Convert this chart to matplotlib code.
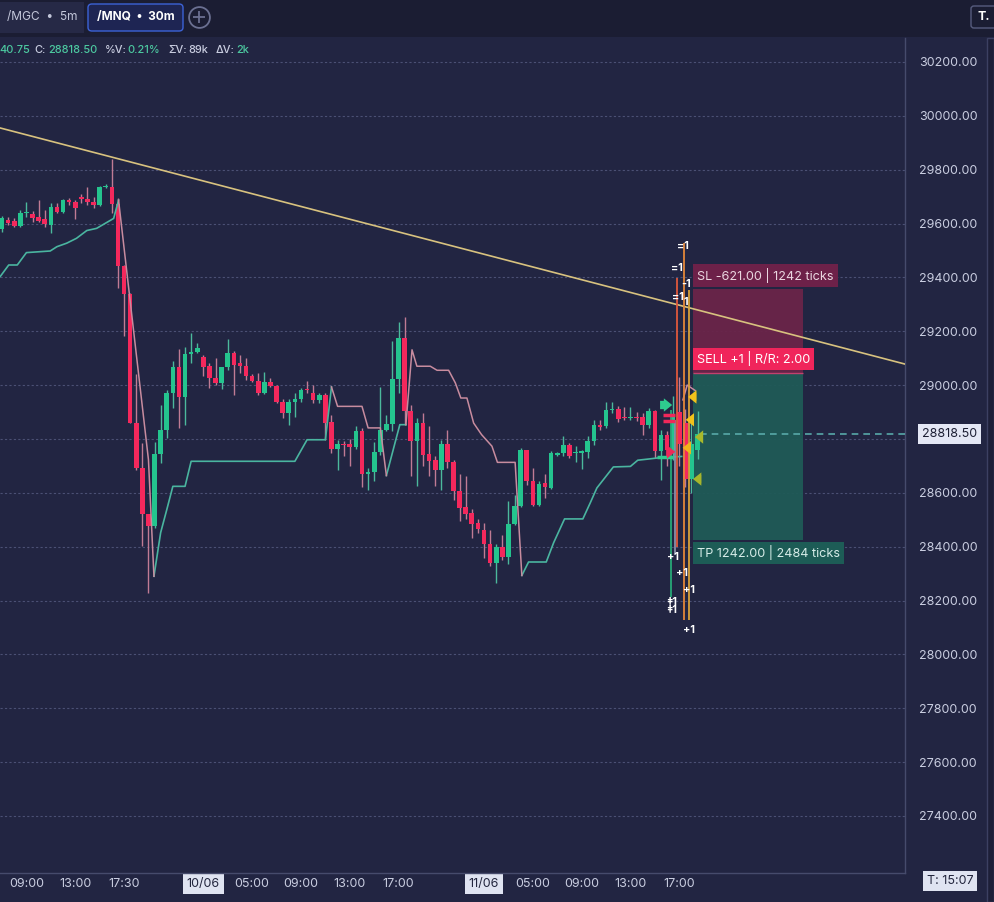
import matplotlib
matplotlib.use("Agg")
import matplotlib.pyplot as plt
from matplotlib.patches import Rectangle, FancyBboxPatch
from matplotlib.lines import Line2D
from matplotlib.transforms import blended_transform_factory
import numpy as np

plt.rcParams['font.family'] = ['Inter', 'DejaVu Sans']

BG = '#222542'
HEAD = '#1b1d33'
GRID = '#4b5074'
TXT = '#c9cde0'
GREEN = '#24c48e'
RED = '#f4285c'
GREEN_WICK = '#4bb99c'
RED_WICK = '#c07b94'
TEAL_LINE = '#4ab5a0'
PINK_LINE = '#c88c9f'
INFO_GREEN = '#4cc9a0'

# /MNQ 30m candles (index 0 = first visible bar)
opens = [29579, 29613, 29610, 29591, 29638, 29636, 29623, 29616, 29595, 29660,
         29644, 29687, 29681, 29700, 29691, 29681, 29669, 29734, 29737, 29673,
         29443, 29340, 28861, 28692, 28522, 28478, 28745, 28834, 28972, 29067,
         28955, 29116, 29122, 29104, 29071, 29026, 29007, 29067, 29119, 29081,
         29071, 29034, 29017, 28970, 29013, 28997, 28939, 28898, 28939, 28948,
         28985, 28970, 28943, 28964, 28862, 28764, 28783, 28783, 28769, 28831,
         28670, 28676, 28752, 28835, 28856, 29024, 29175, 28903, 28791, 28859,
         28744, 28720, 28686, 28783, 28715, 28606, 28546, 28525, 28486, 28463,
         28410, 28340, 28399, 28362, 28484, 28550, 28758, 28643, 28556, 28637,
         28618, 28742, 28746, 28779, 28746, 28748, 28752, 28791, 28853, 28847,
         28906, 28911, 28882, 28878, 28882, 28882, 28853, 28902, 28754, 28816,
         28760, 28900, 28860, 28650, 28760]
highs = [29628, 29626, 29619, 29650, 29681, 29648, 29687, 29650, 29675, 29675,
         29690, 29694, 29687, 29710, 29734, 29700, 29739, 29746, 29838, 29694,
         29446, 29342, 29040, 28784, 28522, 28787, 28927, 28980, 29091, 29133,
         29143, 29195, 29158, 29112, 29081, 29100, 29069, 29170, 29125, 29110,
         29100, 29041, 29044, 29047, 29026, 29001, 28948, 28948, 28970, 28989,
         29017, 29001, 28970, 28970, 28890, 28797, 28791, 28800, 28847, 28841,
         28692, 28788, 28993, 28890, 29162, 29233, 29253, 28927, 28878, 28896,
         28849, 28736, 28797, 28835, 28723, 28668, 28661, 28538, 28501, 28488,
         28463, 28408, 28445, 28569, 28593, 28767, 28760, 28692, 28643, 28668,
         28754, 28751, 28810, 28785, 28773, 28760, 28812, 28869, 28869, 28936,
         28936, 28921, 28919, 28919, 28900, 28896, 28915, 28906, 28835, 28830,
         28960, 29030, 28910, 28880, 28905]
lows = [29570, 29595, 29588, 29588, 29626, 29607, 29607, 29586, 29566, 29638,
        29638, 29669, 29616, 29675, 29669, 29657, 29665, 29731, 29638, 29360,
        29181, 28859, 28686, 28401, 28228, 28469, 28710, 28803, 28914, 28840,
        28853, 29081, 29119, 29032, 28989, 29001, 28985, 29057, 28964, 29044,
        29019, 29010, 28964, 28968, 28992, 28933, 28877, 28852, 28883, 28939,
        28970, 28933, 28935, 28797, 28746, 28684, 28736, 28699, 28764, 28622,
        28612, 28643, 28742, 28828, 28828, 28971, 28853, 28664, 28624, 28699,
        28661, 28624, 28612, 28692, 28575, 28494, 28501, 28433, 28451, 28358,
        28327, 28266, 28350, 28334, 28482, 28548, 28630, 28550, 28550, 28581,
        28614, 28736, 28736, 28729, 28713, 28689, 28729, 28776, 28835, 28841,
        28896, 28862, 28872, 28872, 28865, 28816, 28840, 28729, 28649, 28700,
        28720, 28700, 28620, 28600, 28725]
closes = [29619, 29603, 29591, 29640, 29644, 29622, 29611, 29598, 29663, 29644,
          29687, 29679, 29657, 29690, 29680, 29669, 29737, 29739, 29673, 29443,
          29340, 28861, 28692, 28522, 28478, 28745, 28834, 28972, 29067, 28955,
          29116, 29122, 29139, 29069, 29026, 29007, 29067, 29119, 29075, 29071,
          29034, 29017, 28970, 29010, 28997, 28939, 28898, 28939, 28948, 28982,
          28980, 28943, 28964, 28861, 28764, 28783, 28776, 28769, 28831, 28670,
          28679, 28752, 28835, 28856, 29024, 29175, 28903, 28791, 28859, 28742,
          28717, 28686, 28783, 28715, 28606, 28544, 28523, 28484, 28467, 28410,
          28340, 28399, 28362, 28484, 28550, 28758, 28643, 28556, 28634, 28622,
          28746, 28748, 28779, 28736, 28751, 28754, 28794, 28851, 28844, 28909,
          28911, 28874, 28878, 28882, 28877, 28853, 28903, 28754, 28816, 28760,
          28890, 28780, 28650, 28780, 28818.5]

tick_pos = [4, 12, 20, 33, 41, 49, 57, 65, 79, 87, 95, 103, 111]
tick_lbl = ['09:00', '13:00', '17:30', '10/06', '05:00', '09:00', '13:00',
            '17:00', '11/06', '05:00', '09:00', '13:00', '17:00']
price_ticks = list(range(27400, 30201, 200))
last_price = 28818.50

# trendline anchors
trend_x = [-1, 148]
trend_y = [29959, 29078]

# trailing stop, long side (teal) and short side (pink)
stop_long_x = [-0.3, 1.1, 2.5, 4, 7.9, 9, 10.6, 12.2, 13.9, 15.5, 17.7, 18.3, 19.1, np.nan,
               24.9, 26, 27, 28, 30, 31, 48, 50, 53, 54, np.nan,
               63, 65.2, 66.2, np.nan,
               85.2, 86.3, 89.2, 90.4, 92.2, 95.2, 96.4, 97.5, 100.2, 103, 104.2, 106.2, 107.3, 111.4]
stop_long_y = [29403, 29446, 29446, 29492, 29498, 29514, 29527, 29545, 29574, 29582, 29611, 29619, 29687, np.nan,
               28290, 28452, 28537, 28624, 28624, 28717, 28717, 28797, 28797, 28993, np.nan,
               28664, 28853, 28853, np.nan,
               28293, 28343, 28343, 28414, 28503, 28503, 28562, 28618, 28696, 28698, 28721, 28726, 28729, 28735]
stop_short_x = [19.1, 24.0, 24.9, np.nan,
                54, 55, 59, 60, 62, 63, np.nan,
                66.2, 67.2, 68, 70.2, 71.3, 73.2, 74.3, 75.2, 76.2, 77.3, 78.6, 80.3, 81.2, 84.1, 85.2, np.nan,
                111.6, 112.3, 113.6]
stop_short_y = [29687, 28723, 28290, np.nan,
                28993, 28921, 28921, 28841, 28841, 28664, np.nan,
                28853, 29131, 29070, 29070, 29055, 29055, 29008, 28952, 28952, 28859, 28816, 28773, 28713, 28713, 28293, np.nan,
                28945, 29000, 28980]

# short position tool
entry_price = 29045.0
sl_price = 29355.5
tp_price = 28424.0
sl_text = 'SL -621.00 | 1242 ticks'
sell_text = 'SELL +1 | R/R: 2.00'
tp_text = 'TP 1242.00 | 2484 ticks'

# execution lines near the last bars
exec_x = [109.6, 110.3, 110.7, 111.7, 112.6]
exec_top = [28908, 28871, 29398, 29528, 29353]
exec_bot = [28213, 28369, 28399, 28128, 28128]
exec_col = ['#27a878', '#8a8fa8', '#e0583c', '#e2873a', '#d8a23a']

fill_lbl = ['=1', '=1', '-1', '=1', '1', '+1', '+1', '+1', '\u20211\n\u20211', '+1']
fill_x = [111.6, 110.7, 112.1, 110.8, 112.1, 110.0, 111.5, 112.6, 109.7, 112.6]
fill_y = [29517, 29435, 29376, 29327, 29309, 28362, 28302, 28239, 28179, 28091]

arrow_tip = [112.0, 111.6, 113.1, 111.1, 112.8, 110.3, 110.8]
arrow_tail = [114.3, 113.8, 115.1, 113.0, 115.1, 107.4, 108.4]
arrow_y = [28956, 28871, 28807, 28767, 28651, 28926, 28752]
arrow_col = ['#f2c21b', '#f2c21b', '#a9b92b', '#f0b41c', '#a7b52c', '#2ecc8e', '#f0285a']

fig = plt.figure(figsize=(9.94, 9.02), dpi=100)
fig.patch.set_facecolor(BG)


def fx(px):
    return px / 994.0


def fy(py):
    return 1 - py / 902.0


ax = fig.add_axes([0, 29 / 902, 905 / 994, 835 / 902])
ax.set_facecolor(BG)
ax.set_xlim(-0.33, 148.0)
ax.set_ylim(27188, 30289)

for p in price_ticks:
    ax.axhline(p, color=GRID, lw=0.8, ls=(0, (2, 2)), zorder=0)

# candles
idx = np.arange(len(opens))
o = np.array(opens, float)
h = np.array(highs, float)
l = np.array(lows, float)
c = np.array(closes, float)
up = c >= o
ax.vlines(idx[up], l[up], h[up], color=GREEN_WICK, lw=1, zorder=3)
ax.vlines(idx[~up], l[~up], h[~up], color=RED_WICK, lw=1, zorder=3)
body_lo = np.minimum(o, c)
body_h = np.maximum(np.abs(c - o), 4)
ax.bar(idx[up], body_h[up], bottom=body_lo[up], width=0.76, color=GREEN, zorder=4)
ax.bar(idx[~up], body_h[~up], bottom=body_lo[~up], width=0.76, color=RED, zorder=4)

# trailing stop lines
ax.plot(stop_long_x, stop_long_y, color=TEAL_LINE, lw=1.2, zorder=5)
ax.plot(stop_short_x, stop_short_y, color=PINK_LINE, lw=1.1, zorder=5)

# trendline
ax.plot(trend_x, trend_y, color='#d8c27f', lw=1.2, zorder=6)

# position tool
px0, pw = 113.3, 18.0
ax.add_patch(Rectangle((px0, entry_price), pw, sl_price - entry_price,
                       fc='#6a2449', ec='none', alpha=0.95, zorder=1))
ax.add_patch(Rectangle((px0, tp_price), pw, entry_price - tp_price,
                       fc='#1f5a57', ec='none', alpha=0.95, zorder=1))
ax.hlines(entry_price, px0, px0 + pw, color='#c2406e', lw=1, zorder=2)

tx = px0 + 0.65
lab_kw = dict(fontsize=9.1, ha='left', va='center', zorder=8)
ax.text(tx, 29407, sl_text, color='#ead6e0',
        bbox=dict(boxstyle='square,pad=0.3', fc='#6d2149', ec='none'), **lab_kw)
ax.text(tx, 29097, sell_text, color='white',
        bbox=dict(boxstyle='square,pad=0.3', fc='#f0255b', ec='none'), **lab_kw)
ax.text(tx, 28377, tp_text, color='#d6ece8',
        bbox=dict(boxstyle='square,pad=0.3', fc='#1d5c56', ec='none'), **lab_kw)

# executions
ax.vlines(exec_x, exec_bot, exec_top, colors=exec_col, lw=1.3, zorder=6)
for t, xx, yy in zip(fill_lbl, fill_x, fill_y):
    ax.text(xx, yy, t, fontsize=7.8, fontweight='bold', color='white', linespacing=0.8,
            ha='center', va='center', zorder=9)
for tip, tail, yy, col in zip(arrow_tip, arrow_tail, arrow_y, arrow_col):
    ax.annotate('', xy=(tip, yy), xytext=(tail, yy), zorder=8,
                arrowprops=dict(arrowstyle='simple,head_width=0.8,head_length=0.5,tail_width=0.5',
                                mutation_scale=12, color=col, lw=0))
ax.hlines([28889, 28867], 108.4, 110.3, color='#f0285a', lw=2.5, zorder=7)
ax.hlines(28734, 107.4, 110.0, color='#2ecc8e', lw=2.5, zorder=7)

# last price
ax.hlines(last_price, 114.4, 148.0, color='#58a9a9', lw=1.2, ls=(0, (4, 3)), zorder=6)
btr = blended_transform_factory(ax.transAxes, ax.transData)
ax.text(1 + 17 / 905, last_price, '28818.50', transform=btr, ha='left', va='center',
        fontsize=9, color='#1c1e33', zorder=10,
        bbox=dict(boxstyle='square,pad=0.3', fc='#e4e7f5', ec='none'))

# axes styling
ax.set_yticks(price_ticks)
ax.set_yticklabels(['' if p == 28800 else f'{p:.2f}' for p in price_ticks])
ax.yaxis.tick_right()
ax.tick_params(axis='y', length=0, pad=10, labelsize=9, labelcolor=TXT)
ax.set_xticks(tick_pos)
ax.set_xticklabels(tick_lbl)
ax.tick_params(axis='x', length=0, pad=3.5, labelsize=9, labelcolor=TXT)
for lbl in ax.get_xticklabels():
    if '/' in lbl.get_text():
        lbl.set_color('#22253d')
        lbl.set_bbox(dict(boxstyle='square,pad=0.3', fc='#dfe3f1', ec='none'))
for side in ['top', 'left']:
    ax.spines[side].set_visible(False)
for side in ['bottom', 'right']:
    ax.spines[side].set_color('#464b6c')
    ax.spines[side].set_linewidth(1)

# header bar
fig.patches.append(Rectangle((0, fy(37)), 1, 37 / 902, transform=fig.transFigure,
                             fc=HEAD, ec='none', zorder=0))
fig.patches.append(Rectangle((0, fy(33)), fx(84), 31 / 902, transform=fig.transFigure,
                             fc='#262946', ec='none', zorder=1))
fig.patches.append(FancyBboxPatch((fx(88), fy(31)), fx(95), 27 / 902, transform=fig.transFigure,
                                  boxstyle='round,pad=0,rounding_size=0.004',
                                  fc='#1e2553', ec='#3c62d6', lw=1, zorder=1))
fig.patches.append(Rectangle((fx(987), 0), fx(7), fy(38), transform=fig.transFigure,
                             fc='#1d1f38', ec='#3c4062', lw=1, zorder=0))
fig.patches.append(FancyBboxPatch((fx(971), fy(28)), fx(30), 22 / 902, transform=fig.transFigure,
                                  boxstyle='round,pad=0,rounding_size=0.003',
                                  fc=HEAD, ec='#575c7e', lw=1, zorder=1))
fig.text(fx(7), fy(17), '/MGC  \u2022  5m', fontsize=8.6, color='#c3c7da', va='center', zorder=2)
fig.text(fx(97), fy(17), '/MNQ  \u2022  30m', fontsize=8.6, color='white',
         fontweight='bold', va='center', zorder=2)
fig.add_artist(Line2D([fx(199)], [fy(17)], marker='o', ms=15, mfc='none', mec='#6b7092',
                      mew=1.3, transform=fig.transFigure))
fig.add_artist(Line2D([fx(199)], [fy(17)], marker='+', ms=8, mec='#6b7092',
                      mew=1.3, transform=fig.transFigure))
fig.text(fx(978), fy(17), 'T.', fontsize=9.0, color='white', fontweight='bold',
         va='center', zorder=2)

# info line
info = [('40.75', -1, INFO_GREEN), ('C:', 34, TXT), ('28818.50', 48, INFO_GREEN),
        ('%V:', 105, TXT), ('0.21%', 127, INFO_GREEN), ('\u03a3V:', 168, TXT),
        ('89k', 188, TXT), ('\u0394V:', 216, TXT), ('2k', 236, INFO_GREEN)]
for t, xp, col in info:
    fig.text(fx(xp), fy(50), t, fontsize=7.9, color=col, va='center', fontweight='medium')

# time box
fig.text(fx(927), fy(881), 'T: 15:07', fontsize=9, color='#22253d', va='center',
         bbox=dict(boxstyle='square,pad=0.3', fc='#dfe3f1', ec='none'))

fig.savefig('out.png', dpi=100, facecolor=fig.get_facecolor())
